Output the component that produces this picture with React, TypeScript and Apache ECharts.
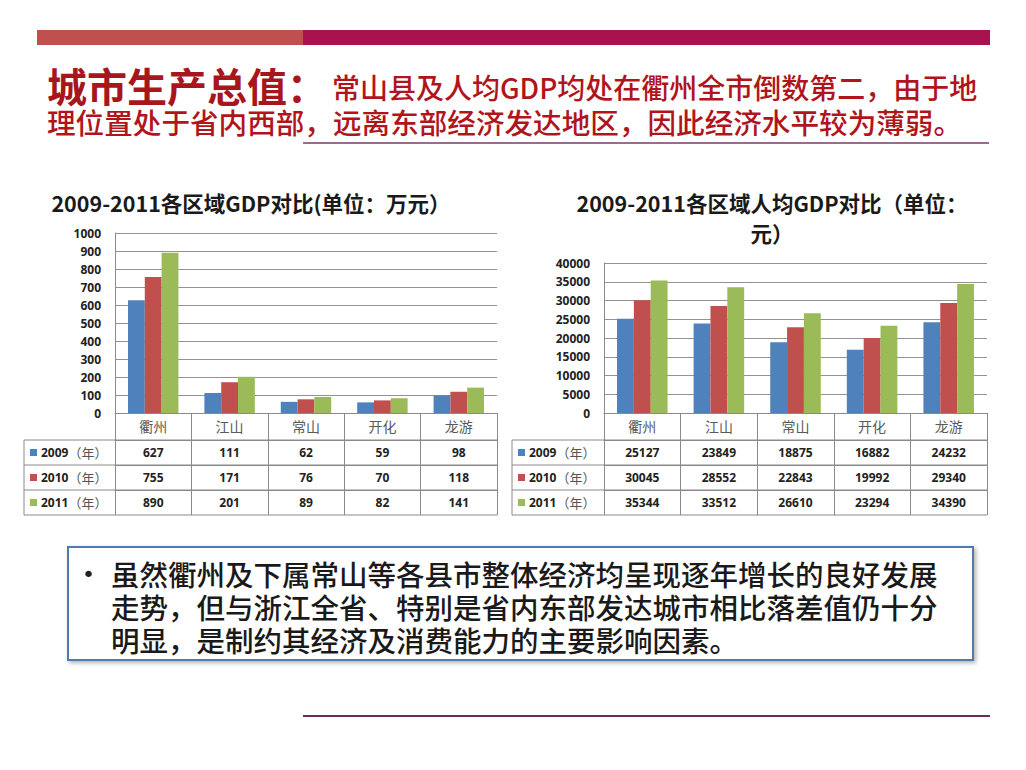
import React, { useEffect, useRef } from 'react';
import * as echarts from 'echarts';

const categories = ['衢州', '江山', '常山', '开化', '龙游'];
const years = ['2009', '2010', '2011'];
const gdp2009 = [627, 111, 62, 59, 98];
const gdp2010 = [755, 171, 76, 70, 118];
const gdp2011 = [890, 201, 89, 82, 141];
const pc2009 = [25127, 23849, 18875, 16882, 24232];
const pc2010 = [30045, 28552, 22843, 19992, 29340];
const pc2011 = [35344, 33512, 26610, 23294, 34390];
const gdpTicks = { min: 0, max: 1000, interval: 100 };
const pcTicks = { min: 0, max: 40000, interval: 5000 };

const headline = '城市生产总值：';
const subLine1 = '常山县及人均GDP均处在衢州全市倒数第二，由于地';
const subLine2 = '理位置处于省内西部，远离东部经济发达地区，因此经济水平较为薄弱。';
const leftTitle = '2009-2011各区域GDP对比(单位：万元）';
const rightTitle = '2009-2011各区域人均GDP对比（单位：\n元）';
const noteLines = [
  '虽然衢州及下属常山等各县市整体经济均呈现逐年增长的良好发展',
  '走势，但与浙江全省、特别是省内东部发达城市相比落差值仍十分',
  '明显，是制约其经济及消费能力的主要影响因素。',
];

const COLORS = ['#4F81BD', '#C0504D', '#9BBB59'];
const LINE = '#8a8a8a';
const CJK = "'Noto Sans CJK SC', 'Noto Sans', sans-serif";
const NUM = "'Open Sans', 'Noto Sans CJK SC', sans-serif";

function tableAxes(gridIndex: number, rows: number[][]) {
  const axes: any[] = [
    {
      type: 'category',
      gridIndex,
      data: categories,
      position: 'bottom',
      boundaryGap: true,
      axisLine: { show: true, lineStyle: { color: LINE, width: 1 } },
      axisTick: { show: true, interval: 0, length: 27, lineStyle: { color: LINE } },
      axisLabel: {
        interval: 0,
        margin: 13,
        verticalAlign: 'middle',
        color: '#5a5a5a',
        fontSize: 14,
        fontFamily: CJK,
      },
    },
  ];
  rows.forEach((row, r) => {
    axes.push({
      type: 'category',
      gridIndex,
      data: categories,
      position: 'bottom',
      offset: 27 + 25 * r,
      boundaryGap: true,
      axisLine: { show: true, lineStyle: { color: LINE, width: 1 } },
      axisTick: { show: true, interval: 0, length: 25, lineStyle: { color: LINE } },
      axisLabel: {
        interval: 0,
        margin: 12.5,
        verticalAlign: 'middle',
        color: '#222',
        fontSize: 12,
        fontWeight: 'bold',
        fontFamily: NUM,
        formatter: (_v: string, i: number) => String(row[i]),
      },
    });
  });
  return axes;
}

function valueAxis(gridIndex: number, t: { min: number; max: number; interval: number }) {
  return {
    type: 'value',
    gridIndex,
    min: t.min,
    max: t.max,
    interval: t.interval,
    axisLine: { show: true, lineStyle: { color: LINE } },
    axisTick: { show: false },
    splitLine: { show: true, lineStyle: { color: '#939393', width: 1 } },
    axisLabel: {
      margin: 14,
      color: '#222',
      fontSize: 12,
      fontWeight: 'bold',
      fontFamily: NUM,
      formatter: (v: number) => String(v),
    },
  };
}

function tableFrame(left: number, right: number, squareX: number, textX: number) {
  const els: any[] = [];
  [440, 465, 490, 515].forEach((y) => {
    els.push({ type: 'line', shape: { x1: left, y1: y, x2: right, y2: y }, style: { stroke: LINE, lineWidth: 1 } });
  });
  els.push({ type: 'line', shape: { x1: left, y1: 440, x2: left, y2: 515 }, style: { stroke: LINE, lineWidth: 1 } });
  years.forEach((yr, r) => {
    const cy = 452.5 + 25 * r;
    els.push({ type: 'rect', shape: { x: squareX, y: cy - 3.5, width: 7, height: 7 }, style: { fill: COLORS[r] } });
    els.push({
      type: 'text',
      x: textX,
      y: cy,
      style: {
        text: `{y|${yr}}{n|（年）}`,
        verticalAlign: 'middle',
        rich: {
          y: { fontSize: 12, fontWeight: 'bold', fontFamily: NUM, fill: '#222' },
          n: { fontSize: 13, fontFamily: CJK, fill: '#555' },
        },
      },
    });
  });
  return els;
}

function buildOption() {
  const gdpRows = [gdp2009, gdp2010, gdp2011];
  const pcRows = [pc2009, pc2010, pc2011];
  const xAxis = [...tableAxes(0, gdpRows), ...tableAxes(1, pcRows)];
  const series: any[] = [];
  gdpRows.forEach((row, r) => {
    series.push({
      type: 'bar', name: years[r], xAxisIndex: 0, yAxisIndex: 0, data: row,
      barGap: '0%', barCategoryGap: '34%', itemStyle: { color: COLORS[r] },
    });
  });
  pcRows.forEach((row, r) => {
    series.push({
      type: 'bar', name: years[r], xAxisIndex: 4, yAxisIndex: 1, data: row,
      barGap: '0%', barCategoryGap: '34%', itemStyle: { color: COLORS[r] },
    });
  });

  const graphic: any[] = [
    { type: 'rect', shape: { x: 37, y: 30, width: 266, height: 15 }, style: { fill: '#C0504D' } },
    { type: 'rect', shape: { x: 303, y: 30, width: 687, height: 15 }, style: { fill: '#A8124F' } },
    {
      type: 'text', x: 47, y: 67,
      style: {
        text: `{h|${headline}}{s1|${subLine1}}\n{s2|${subLine2}}`,
        verticalAlign: 'top',
        rich: {
          h: { fontSize: 40, fontWeight: 'bold', fontFamily: CJK, fill: '#A8161D', lineHeight: 36, verticalAlign: 'middle' },
          s1: { fontSize: 28, fontWeight: 500, fontFamily: CJK, fill: '#B0151C', lineHeight: 36, padding: [4, 0, 0, 5], verticalAlign: 'middle' },
          s2: { fontSize: 28.6, fontWeight: 500, fontFamily: CJK, fill: '#B0151C', lineHeight: 36, verticalAlign: 'middle' },
        },
      },
    },
    { type: 'line', shape: { x1: 303, y1: 143, x2: 989, y2: 143 }, style: { stroke: '#7A3B6E', lineWidth: 1.5 } },
    {
      type: 'text', x: 251, y: 202,
      style: { text: leftTitle, fontSize: 21.5, fontWeight: 'bold', fontFamily: CJK, fill: '#1a1a1a', align: 'center', verticalAlign: 'middle' },
    },
    {
      type: 'text', x: 772, y: 217,
      style: { text: rightTitle, fontSize: 21.5, fontWeight: 'bold', fontFamily: CJK, fill: '#1a1a1a', align: 'center', verticalAlign: 'middle', lineHeight: 30 },
    },
    ...tableFrame(24, 497, 30, 41),
    ...tableFrame(512, 987, 518, 529),
    {
      type: 'rect', shape: { x: 68, y: 547, width: 905, height: 113 },
      style: { fill: '#fff', stroke: '#4F7BAA', lineWidth: 2, shadowBlur: 4, shadowColor: 'rgba(0,0,0,0.3)', shadowOffsetX: 2, shadowOffsetY: 2 },
    },
    {
      type: 'text', x: 82, y: 574,
      style: { text: '•', fontSize: 22, fontFamily: "'DejaVu Sans', sans-serif", fill: '#222', verticalAlign: 'middle' },
    },
    {
      type: 'text', x: 111, y: 556.5,
      style: {
        text: noteLines.join('\n'),
        fontSize: 28.5,
        fontWeight: 500,
        lineHeight: 33,
        fontFamily: CJK,
        fill: '#1a1a1a',
        verticalAlign: 'top',
      },
    },
    { type: 'line', shape: { x1: 303, y1: 716, x2: 990, y2: 716 }, style: { stroke: '#6B2A5E', lineWidth: 2 } },
  ];

  return {
    animation: false,
    backgroundColor: '#fff',
    grid: [
      { left: 115, top: 233, width: 382, height: 180, containLabel: false },
      { left: 604, top: 263, width: 383, height: 150, containLabel: false },
    ],
    xAxis,
    yAxis: [valueAxis(0, gdpTicks), valueAxis(1, pcTicks)],
    series,
    graphic,
  };
}

export default function App() {
  const ref = useRef<HTMLDivElement>(null);
  useEffect(() => {
    document.body.style.margin = '0';
    const chart = echarts.init(ref.current!, null, { renderer: 'svg' });
    chart.setOption(buildOption() as any);
    return () => chart.dispose();
  }, []);
  return (
    <div
      ref={ref}
      style={{ position: 'absolute', left: 0, top: 0, width: 1026, height: 770, background: '#fff' }}
    />
  );
}
